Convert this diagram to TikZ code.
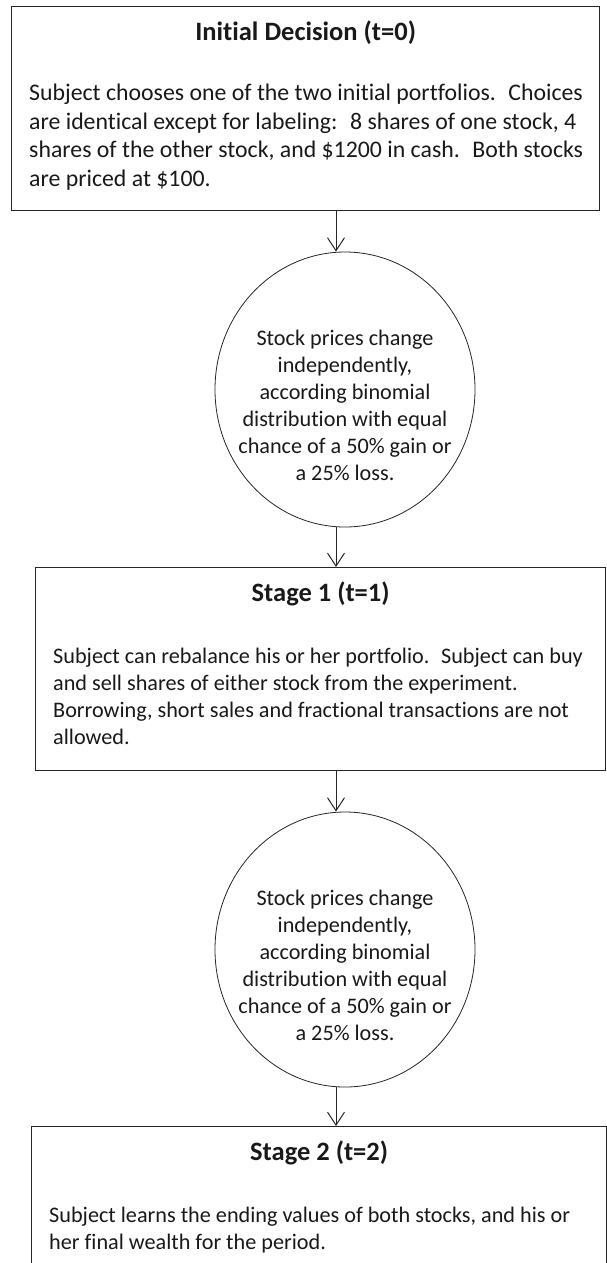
\documentclass[tikz,border=0pt]{standalone}
\usepackage{fontspec}
\setmainfont{Carlito}[Ligatures={NoCommon}]
\usepackage{tikz}
\usetikzlibrary{arrows.meta,shapes.geometric,positioning}

\begin{document}
\begin{tikzpicture}[
    x=1pt, y=1pt,
    >={Straight Barb[length=13pt,width=17pt]},
    font=\fontsize{22.2}{27}\selectfont,
    box/.style={draw=black!85, line width=1.3pt, anchor=north west,
                inner sep=0pt},
    chance/.style={ellipse, draw=black!85, line width=0.8pt,
                   minimum width=260pt, minimum height=275pt, inner sep=0pt},
    head/.style={font=\fontsize{26.5}{30}\selectfont\bfseries,
                 anchor=base, text=black!90},
    body/.style={align=left, anchor=base west, inner sep=0pt, text=black!90},
    ctext/.style={align=center, inner sep=0pt, text=black!90},
    arr/.style={->, line width=1pt, black!85}
]
\clip (0,0) rectangle (607,-1263);
% --- initial decision ---------------------------------------------------
\node[box, minimum width=588pt, minimum height=204pt] (b1) at (11,-6) {};
\node[head] (h1) at ([yshift=-34.5pt]b1.north) {Initial Decision (t=0)};
\node[body, font=\fontsize{23.8}{28.5}\selectfont] (t1)
    at ([xshift=18pt, yshift=-180pt]b1.north west)
    {Subject chooses one of the two initial portfolios.~ Choices\\
     are identical except for labeling:~ 8 shares of one stock, 4\\
     shares of the other stock, and \$1200 in cash.~ Both stocks\\
     are priced at \$100.};
% --- first price change -------------------------------------------------
\node[chance] (c1) at (345,-389.5) {};
\node[ctext] (p1) at ([yshift=-16pt]c1.center)
    {Stock prices change\\ independently,\\ according binomial\\
     distribution with equal\\ chance of a 50\% gain or\\ a 25\% loss.};
% --- stage 1 ------------------------------------------------------------
\node[box, minimum width=570pt, minimum height=203pt] (b2) at (35,-567) {};
\node[head] (h2) at ([yshift=-34.5pt]b2.north) {Stage 1 (t=1)};
\node[body] (t2) at ([xshift=18pt, yshift=-177pt]b2.north west)
    {Subject can rebalance his or her portfolio.~ Subject can buy\\
     and sell shares of either stock from the experiment.\\
     Borrowing, short sales and fractional transactions are not\\
     allowed.};
% --- second price change ------------------------------------------------
\node[chance] (c2) at (345,-949.5) {};
\node[ctext] (p2) at ([yshift=-16pt]c2.center)
    {Stock prices change\\ independently,\\ according binomial\\
     distribution with equal\\ chance of a 50\% gain or\\ a 25\% loss.};
% --- stage 2 ------------------------------------------------------------
\node[box, minimum width=575pt, minimum height=220pt] (b3) at (31,-1126) {};
\node[head] (h3) at ([yshift=-34.5pt]b3.north) {Stage 2 (t=2)};
\node[body] (t3) at ([xshift=18pt, yshift=-123pt]b3.north west)
    {Subject learns the ending values of both stocks, and his or\\
     her final wealth for the period.};
% --- arrows -------------------------------------------------------------
\draw[arr] ([xshift=-9pt]c1.north |- b1.south) -- ([xshift=-9pt]c1.north);
\draw[arr] ([xshift=-9pt]c1.south) -- ([xshift=-9pt]c1.south |- b2.north);
\draw[arr] ([xshift=-9pt]c2.north |- b2.south) -- ([xshift=-9pt]c2.north);
\draw[arr] ([xshift=-9pt]c2.south) -- ([xshift=-9pt]c2.south |- b3.north);
\end{tikzpicture}
\end{document}
